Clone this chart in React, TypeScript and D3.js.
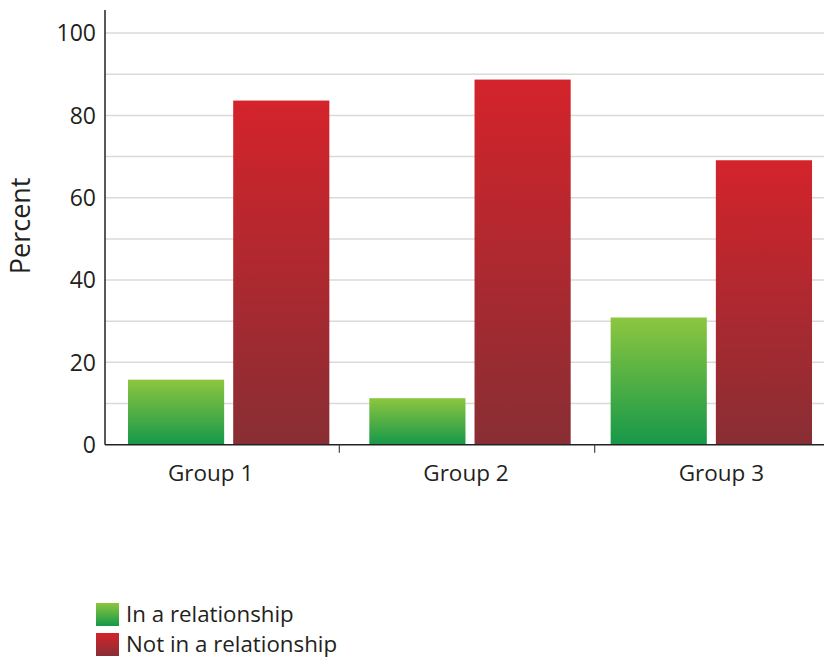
import React from "react";
import * as d3 from "d3";

const groups = ["Group 1", "Group 2", "Group 3"];
const seriesNames = ["In a relationship", "Not in a relationship"];
const inRelationship = [15.8, 11.3, 30.9];
const notInRelationship = [83.6, 88.7, 69.1];
const yTicks = [0, 20, 40, 60, 80, 100];
const gridValues = [10, 20, 30, 40, 50, 60, 70, 80, 90, 100];

const W = 824;
const H = 659;
const FONT = "'Open Sans', Lato, sans-serif";

const gradients = [
  { id: "grad-green", top: "#8dc63f", bottom: "#16984a" },
  { id: "grad-red", top: "#d4232b", bottom: "#882e34" },
];

export default function App() {
  const y = d3.scaleLinear().domain([0, 105.6]).range([444.7, 10]);
  const axisLeft = 105;
  const axisRight = W;

  // band scale for the bar groups
  const x0 = d3.scaleBand<string>().domain(groups).range([108, 832]).paddingInner(0).paddingOuter(0);
  const x1 = d3
    .scaleBand<number>()
    .domain([0, 1])
    .range([0, x0.bandwidth()])
    .paddingInner(0.086)
    .paddingOuter(0.19);

  // category axis (labels and separators)
  const xAxis = d3.scaleBand<string>().domain(groups).range([84, 850]);

  const rows = groups.map((g, i) => ({ g, values: [inRelationship[i], notInRelationship[i]] }));

  return (
    <svg
      width={W}
      height={H}
      style={{ position: "absolute", left: 0, top: 0, background: "#fff" }}
      fontFamily={FONT}
    >
      <defs>
        {gradients.map((gr) => (
          <linearGradient key={gr.id} id={gr.id} x1="0" y1="0" x2="0" y2="1">
            <stop offset="0%" stopColor={gr.top} />
            <stop offset="100%" stopColor={gr.bottom} />
          </linearGradient>
        ))}
      </defs>

      {/* grid */}
      {gridValues.map((v) => (
        <line key={v} x1={axisLeft} x2={axisRight} y1={y(v)} y2={y(v)} stroke="#dadada" strokeWidth={1.5} />
      ))}

      {/* bars */}
      {rows.map((r) => (
        <g key={r.g} transform={`translate(${x0(r.g)},0)`}>
          {r.values.map((v, j) => (
            <rect
              key={j}
              x={x1(j)}
              y={y(v)}
              width={x1.bandwidth()}
              height={y(0) - y(v)}
              fill={`url(#${gradients[j].id})`}
            />
          ))}
        </g>
      ))}

      {/* y axis */}
      <line x1={axisLeft} x2={axisLeft} y1={y.range()[1]} y2={y(0)} stroke="#222" strokeWidth={1.5} />
      {yTicks.map((t) => (
        <text key={t} x={96} y={y(t)} dy="0.36em" textAnchor="end" fontSize={23} fill="#231f20">
          {t}
        </text>
      ))}
      <text
        transform={`translate(30,${(y(0) + y(100)) / 2 - 13}) rotate(-90)`}
        textAnchor="middle"
        fontSize={27}
        fill="#231f20"
      >
        Percent
      </text>

      {/* x axis */}
      <line x1={axisLeft} x2={axisRight} y1={y(0)} y2={y(0)} stroke="#222" strokeWidth={1.5} />
      {groups.slice(1).map((g) => (
        <line key={g} x1={xAxis(g)} x2={xAxis(g)} y1={y(0)} y2={y(0) + 8} stroke="#444" strokeWidth={1.2} />
      ))}
      {groups.map((g) => (
        <text
          key={g}
          x={(xAxis(g) as number) + xAxis.bandwidth() / 2 - 1}
          y={481}
          textAnchor="middle"
          fontSize={22.5}
          fill="#231f20"
        >
          {g}
        </text>
      ))}

      {/* legend */}
      {seriesNames.map((s, i) => (
        <g key={s} transform={`translate(96,${603 + i * 30})`}>
          <rect width={23} height={23} fill={`url(#${gradients[i].id})`} />
          <text x={30} y={19} fontSize={22.3} fill="#231f20">
            {s}
          </text>
        </g>
      ))}
    </svg>
  );
}
